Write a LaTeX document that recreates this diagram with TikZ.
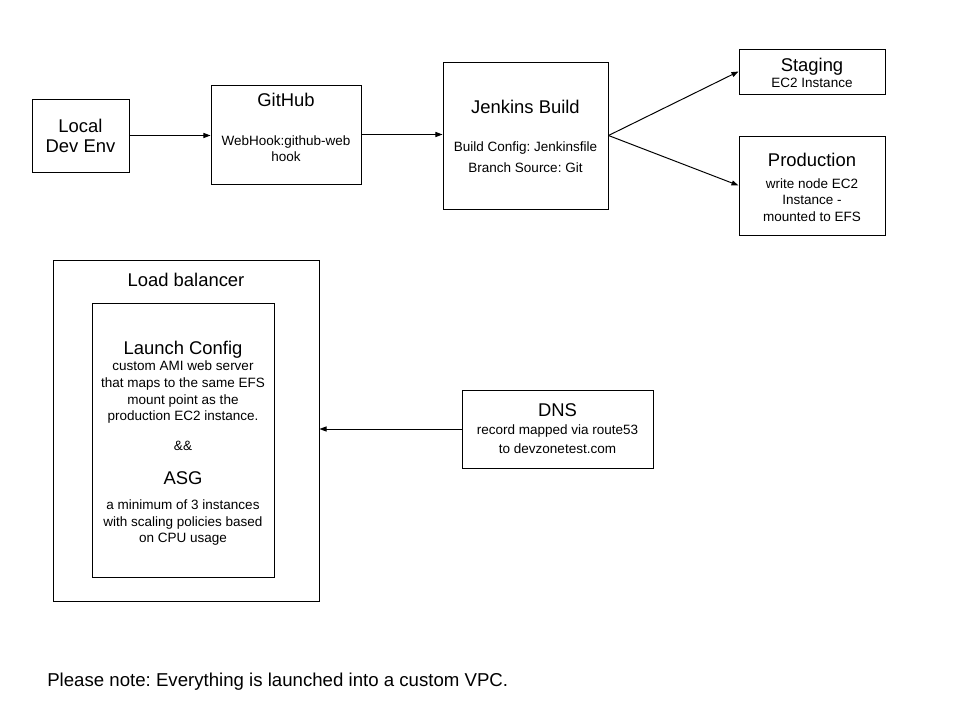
\documentclass[tikz,border=0pt]{standalone}
\usepackage{fontspec}
\setmainfont{Liberation Sans}
\usepackage{tikz}
\usetikzlibrary{arrows.meta, positioning, calc}
\definecolor{inkblack}{RGB}{0, 0, 0}
\frenchspacing

\begin{document}
\begin{tikzpicture}[
    x=0.025cm, y=-0.025cm,
    box/.style 2 args={rectangle, draw=inkblack, line width=0.7pt, inner sep=0pt, minimum width=#1*0.025cm, minimum height=#2*0.025cm},
    title/.style={anchor=base, inner sep=0pt, align=center, font=\fontsize{13.1}{14.6}\selectfont},
    detail/.style={anchor=base, inner sep=0pt, align=center, font=\fontsize{9.6}{11.9}\selectfont},
    arrow/.style={-{Triangle[length=5pt, width=3.6pt]}, line width=0.7pt, inkblack}
]
    \useasboundingbox (0,0) rectangle (960,720);

    % Pipeline boxes (text nodes sit on the baseline of their last line)
    \node[box={97}{73}] (local) at (80.5,135.5) {};
    \node[box={150}{99}] (github) at (286,134.5) {};
    \node[box={165}{147}] (jenkins) at (525.5,135.5) {};
    \node[box={146}{45}] (staging) at (812,71.5) {};
    \node[box={146}{99}] (production) at (812,185.5) {};

    \node[title] (localtxt) at (80.5,153) {Local\\Dev Env};
    \node[title] (githubtxt) at (286,107) {GitHub};
    \node[detail] (hooktxt) at (286,162) {WebHook:github-web\\hook};
    \node[title] (jenkinstxt) at (525.5,113.5) {Jenkins Build};
    \node[detail] (buildtxt) at (525.5,172.5) {Build Config: Jenkinsfile\\[3pt]Branch Source: Git};
    \node[title] (stagingtxt) at (812,71.5) {Staging};
    \node[detail] (stagingec2) at (812,88) {EC2 Instance};
    \node[title] (prodtxt) at (812,166.5) {Production};
    \node[detail] (prodec2) at (812,221.5) {write node EC2\\Instance -\\mounted to EFS};

    \draw[arrow] (local.east) -- (local.east -| github.west);
    \draw[arrow] (github.east) -- (github.east -| jenkins.west);
    \draw[arrow] (jenkins.east) -- (staging.west);
    \draw[arrow] (jenkins.east) -- (production.west);

    % Load balancer and DNS
    \node[box={266}{341}] (lb) at (186,430.5) {};
    \node[box={182}{274}] (launch) at (183,440) {};
    \node[box={191}{78}] (dns) at (557.5,429) {};

    \node[title] (lbtxt) at (186,287) {Load balancer};
    \node[title] (launchtxt) at (183,354.5) {Launch Config};
    \node[detail] (amitxt) at (183,421) {custom AMI web server\\that maps to the same EFS\\mount point as the\\production EC2 instance.};
    \node[detail] (andtxt) at (183,450.5) {\&\&};
    \node[title] (asgtxt) at (183,484.5) {ASG};
    \node[detail] (scaletxt) at (183,543) {a minimum of 3 instances\\with scaling policies based\\on CPU usage};
    \node[title] (dnstxt) at (557.5,417) {DNS};
    \node[detail] (routetxt) at (557.5,453.5) {record mapped via route53\\[1.3pt]to devzonetest.com};

    \draw[arrow] (dns.west) -- (dns.west -| lb.east);

    \node[title, anchor=base west, font=\fontsize{13.25}{15}\selectfont] (note) at (47,686.5) {Please note: Everything is launched into a custom VPC.};
\end{tikzpicture}
\end{document}
